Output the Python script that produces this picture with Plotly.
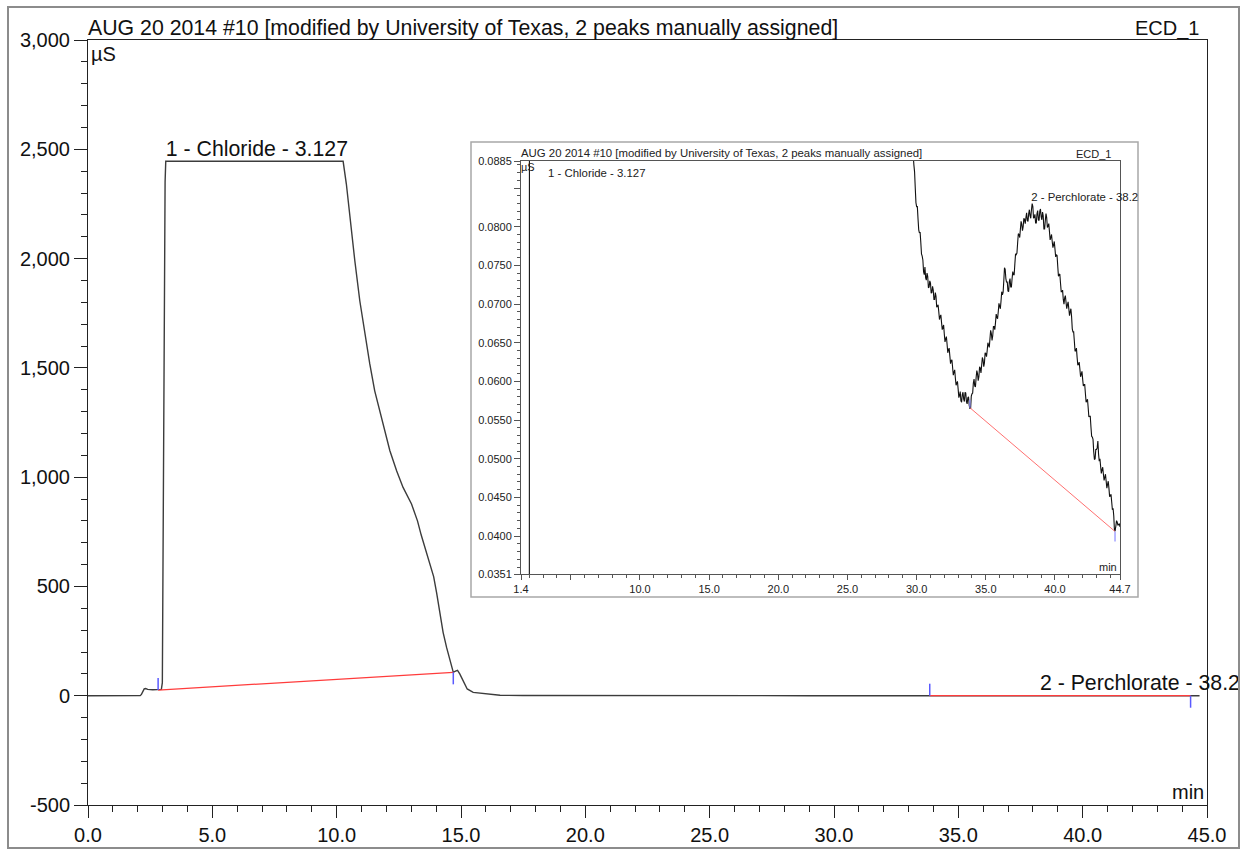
import numpy as np
import plotly.graph_objects as go

# ---------------------------------------------------------------------------
# ECD_1 conductivity trace (time in min, signal in µS)
# ---------------------------------------------------------------------------
# early part of the run: system peak, chloride (detector at full scale) and tail
run_time_early = [
    0.0, 2.0, 2.10, 2.15, 2.20, 2.26, 2.32, 2.40, 2.60, 2.80, 2.95, 2.99, 3.02,
    3.06, 3.10, 3.127, 10.26, 10.39, 10.60, 10.73, 10.93, 11.13, 11.33, 11.53,
    11.73, 11.94, 12.14, 12.41, 12.67, 13.01, 13.25, 13.40, 13.52, 13.65, 13.78,
    13.90, 14.02, 14.15, 14.28, 14.42, 14.55, 14.69, 14.78, 14.86, 14.95, 15.09,
    15.25, 15.49, 16.03, 16.57, 17.5, 18.5, 20.0, 22.0, 24.0, 26.0, 28.0, 29.0,
    29.5, 29.6, 29.7, 29.75,
]
run_signal_early = [
    0, 0, 1, 6, 20, 31, 33, 29, 27, 27, 29, 60, 700,
    1800, 2350, 2445, 2445, 2341, 2112, 1990, 1807, 1656, 1519, 1395,
    1304, 1212, 1121, 1029, 953, 877, 800, 735, 690, 650, 600,
    545, 470, 373, 290, 221, 160, 107, 112, 116, 100, 69,
    31, 15, 8, 2, 1.0, 0.6, 0.35, 0.22, 0.16, 0.12, 0.10, 0.095,
    0.0925, 0.0912, 0.0905, 0.0893,
]
# late part of the run (0.05 min sampling): perchlorate region
run_time_late = [
    29.80, 29.85, 29.90, 29.95, 30.00, 30.05, 30.10, 30.15, 30.20, 30.25,
    30.30, 30.35, 30.40, 30.45, 30.50, 30.55, 30.60, 30.65, 30.70, 30.75,
    30.80, 30.85, 30.90, 30.95, 31.00, 31.05, 31.10, 31.15, 31.20, 31.25,
    31.30, 31.35, 31.40, 31.45, 31.50, 31.55, 31.60, 31.65, 31.70, 31.75,
    31.80, 31.85, 31.90, 31.95, 32.00, 32.05, 32.10, 32.15, 32.20, 32.25,
    32.30, 32.35, 32.40, 32.45, 32.50, 32.55, 32.60, 32.65, 32.70, 32.75,
    32.80, 32.85, 32.90, 32.95, 33.00, 33.05, 33.10, 33.15, 33.20, 33.25,
    33.30, 33.35, 33.40, 33.45, 33.50, 33.55, 33.60, 33.65, 33.70, 33.75,
    33.80, 33.85, 33.90, 33.95, 34.00, 34.05, 34.10, 34.15, 34.20, 34.25,
    34.30, 34.35, 34.40, 34.45, 34.50, 34.55, 34.60, 34.65, 34.70, 34.75,
    34.80, 34.85, 34.90, 34.95, 35.00, 35.05, 35.10, 35.15, 35.20, 35.25,
    35.30, 35.35, 35.40, 35.45, 35.50, 35.55, 35.60, 35.65, 35.70, 35.75,
    35.80, 35.85, 35.90, 35.95, 36.00, 36.05, 36.10, 36.15, 36.20, 36.25,
    36.30, 36.35, 36.40, 36.45, 36.50, 36.55, 36.60, 36.65, 36.70, 36.75,
    36.80, 36.85, 36.90, 36.95, 37.00, 37.05, 37.10, 37.15, 37.20, 37.25,
    37.30, 37.35, 37.40, 37.45, 37.50, 37.55, 37.60, 37.65, 37.70, 37.75,
    37.80, 37.85, 37.90, 37.95, 38.00, 38.05, 38.10, 38.15, 38.20, 38.25,
    38.30, 38.35, 38.40, 38.45, 38.50, 38.55, 38.60, 38.65, 38.70, 38.75,
    38.80, 38.85, 38.90, 38.95, 39.00, 39.05, 39.10, 39.15, 39.20, 39.25,
    39.30, 39.35, 39.40, 39.45, 39.50, 39.55, 39.60, 39.65, 39.70, 39.75,
    39.80, 39.85, 39.90, 39.95, 40.00, 40.05, 40.10, 40.15, 40.20, 40.25,
    40.30, 40.35, 40.40, 40.45, 40.50, 40.55, 40.60, 40.65, 40.70, 40.75,
    40.80, 40.85, 40.90, 40.95, 41.00, 41.05, 41.10, 41.15, 41.20, 41.25,
    41.30, 41.35, 41.40, 41.45, 41.50, 41.55, 41.60, 41.65, 41.70, 41.75,
    41.80, 41.85, 41.90, 41.95, 42.00, 42.05, 42.10, 42.15, 42.20, 42.25,
    42.30, 42.35, 42.40, 42.45, 42.50, 42.55, 42.60, 42.65, 42.70, 42.75,
    42.80, 42.85, 42.90, 42.95, 43.00, 43.05, 43.10, 43.15, 43.20, 43.25,
    43.30, 43.35, 43.40, 43.45, 43.50, 43.55, 43.60, 43.65, 43.70, 43.75,
    43.80, 43.85, 43.90, 43.95, 44.00, 44.05, 44.10, 44.15, 44.20, 44.25,
    44.30, 44.35, 44.40, 44.45, 44.50, 44.55, 44.60, 44.65, 44.70,
]
run_signal_late = [
    0.0880, 0.0871, 0.0850, 0.0831, 0.0826, 0.0826, 0.0810, 0.0796, 0.0792, 0.0793,
    0.0780, 0.0765, 0.0762, 0.0757, 0.0742, 0.0738, 0.0748, 0.0734, 0.0731, 0.0740,
    0.0736, 0.0721, 0.0722, 0.0730, 0.0727, 0.0714, 0.0715, 0.0723, 0.0718, 0.0706,
    0.0706, 0.0715, 0.0710, 0.0696, 0.0697, 0.0699, 0.0690, 0.0680, 0.0684, 0.0686,
    0.0676, 0.0667, 0.0670, 0.0673, 0.0661, 0.0651, 0.0655, 0.0658, 0.0648, 0.0637,
    0.0641, 0.0643, 0.0633, 0.0623, 0.0627, 0.0628, 0.0618, 0.0608, 0.0612, 0.0615,
    0.0604, 0.0595, 0.0598, 0.0600, 0.0590, 0.0579, 0.0582, 0.0587, 0.0575, 0.0573,
    0.0583, 0.0586, 0.0577, 0.0574, 0.0586, 0.0585, 0.0574, 0.0571, 0.0579, 0.0580,
    0.0569, 0.0565, 0.0565, 0.0581, 0.0584, 0.0585, 0.0598, 0.0603, 0.0594, 0.0593,
    0.0605, 0.0614, 0.0610, 0.0601, 0.0606, 0.0619, 0.0617, 0.0611, 0.0621, 0.0631,
    0.0628, 0.0619, 0.0624, 0.0637, 0.0636, 0.0632, 0.0640, 0.0650, 0.0647, 0.0644,
    0.0655, 0.0666, 0.0662, 0.0653, 0.0659, 0.0671, 0.0671, 0.0667, 0.0676, 0.0687,
    0.0683, 0.0681, 0.0690, 0.0701, 0.0697, 0.0694, 0.0704, 0.0716, 0.0712, 0.0715,
    0.0730, 0.0747, 0.0745, 0.0733, 0.0728, 0.0729, 0.0717, 0.0716, 0.0729, 0.0733,
    0.0722, 0.0722, 0.0733, 0.0742, 0.0738, 0.0738, 0.0752, 0.0765, 0.0764, 0.0766,
    0.0779, 0.0791, 0.0790, 0.0786, 0.0797, 0.0807, 0.0803, 0.0795, 0.0800, 0.0811,
    0.0809, 0.0804, 0.0812, 0.0818, 0.0808, 0.0807, 0.0817, 0.0822, 0.0814, 0.0811,
    0.0822, 0.0830, 0.0826, 0.0811, 0.0812, 0.0816, 0.0805, 0.0805, 0.0817, 0.0821,
    0.0809, 0.0808, 0.0820, 0.0823, 0.0813, 0.0809, 0.0819, 0.0814, 0.0797, 0.0797,
    0.0808, 0.0817, 0.0812, 0.0799, 0.0801, 0.0804, 0.0794, 0.0783, 0.0786, 0.0790,
    0.0781, 0.0773, 0.0777, 0.0781, 0.0771, 0.0761, 0.0764, 0.0763, 0.0749, 0.0736,
    0.0738, 0.0739, 0.0727, 0.0716, 0.0716, 0.0718, 0.0706, 0.0700, 0.0708, 0.0711,
    0.0702, 0.0694, 0.0699, 0.0703, 0.0694, 0.0685, 0.0690, 0.0694, 0.0684, 0.0668,
    0.0664, 0.0664, 0.0652, 0.0639, 0.0640, 0.0643, 0.0631, 0.0621, 0.0622, 0.0625,
    0.0616, 0.0606, 0.0609, 0.0613, 0.0603, 0.0594, 0.0596, 0.0596, 0.0584, 0.0573,
    0.0575, 0.0577, 0.0566, 0.0554, 0.0555, 0.0555, 0.0541, 0.0529, 0.0528, 0.0525,
    0.0509, 0.0499, 0.0500, 0.0512, 0.0512, 0.0514, 0.0523, 0.0506, 0.0497, 0.0500,
    0.0490, 0.0481, 0.0486, 0.0489, 0.0480, 0.0472, 0.0476, 0.0480, 0.0471, 0.0462,
    0.0467, 0.0471, 0.0462, 0.0451, 0.0452, 0.0454, 0.0444, 0.0434, 0.0436, 0.0426,
    0.0407, 0.0407, 0.0413, 0.0420, 0.0418, 0.0414, 0.0415, 0.0416, 0.0412,
]
time_min = run_time_early + run_time_late
signal_us = run_signal_early + run_signal_late

# Peak table
peak_numbers = [1, 2]
peak_names = ["Chloride", "Perchlorate"]
peak_rt = [3.127, 38.28]

# Integration baselines (start / end of each peak)
baseline_start_t = [2.82, 33.85]
baseline_start_v = [26.0, 0.0566]
baseline_end_t = [14.69, 44.34]
baseline_end_v = [107.0, 0.0406]

# Axis ticks
main_x_ticks = [0, 5, 10, 15, 20, 25, 30, 35, 40, 45]
main_y_ticks = [-500, 0, 500, 1000, 1500, 2000, 2500, 3000]
inset_x_ticks = [1.4, 5, 10, 15, 20, 25, 30, 35, 40, 44.7]
inset_x_labels = ["1.4", "", "10.0", "15.0", "20.0", "25.0", "30.0", "35.0", "40.0", "44.7"]
inset_y_ticks = [0.0351, 0.0400, 0.0450, 0.0500, 0.0550, 0.0600, 0.0650,
                 0.0700, 0.0750, 0.0800, 0.0850, 0.0885]
inset_y_labels = ["0.0351", "0.0400", "0.0450", "0.0500", "0.0550", "0.0600", "0.0650",
                  "0.0700", "0.0750", "0.0800", "", "0.0885"]

TITLE = "AUG 20 2014 #10 [modified by University of Texas, 2 peaks manually assigned]"
CHANNEL = "ECD_1"

# ---------------------------------------------------------------------------
# Page geometry
# ---------------------------------------------------------------------------
W, H = 1246, 849
L, R, T, B = 88, 6, 40, 44
PW, PH = W - L - R, H - T - B


def fx(px):
    return (px - L) / PW


def fy(py):
    return (H - B - py) / PH


FONT = "Liberation Sans, Arial, sans-serif"
main_dom_x = [0.0, fx(1207)]
inset_dom_x = [fx(521), fx(1120)]
inset_dom_y = [fy(574), fy(161)]
main_xr = [0, 45]
main_yr = [-500, 3000]
inset_xr = [1.4, 44.7]
inset_yr = [0.0351, 0.0885]

t = np.array(time_min)
v = np.array(signal_us)
# label height: local apex of the trace around each retention time
peak_h = [float(v[(t >= rt - 0.2) & (t <= rt + 0.2)].max()) for rt in peak_rt]
peak_labels = [f"{n} - {name} - {rt}" for n, name, rt in zip(peak_numbers, peak_names, peak_rt)]

fig = go.Figure()

# main chromatogram
fig.add_trace(go.Scatter(x=time_min, y=signal_us, mode="lines",
                         line=dict(color="#3c3c3c", width=1.4), xaxis="x", yaxis="y"))
# zoomed chromatogram
fig.add_trace(go.Scatter(x=time_min, y=signal_us, mode="lines",
                         line=dict(color="#111111", width=1.1, simplify=False),
                         xaxis="x2", yaxis="y2"))

# baselines
for i in range(len(peak_rt)):
    bx = [baseline_start_t[i], baseline_end_t[i]]
    by = [baseline_start_v[i], baseline_end_v[i]]
    fig.add_trace(go.Scatter(x=bx, y=by, mode="lines",
                             line=dict(color="#ff3c3c", width=1.3), xaxis="x", yaxis="y"))
    fig.add_trace(go.Scatter(x=bx, y=by, mode="lines",
                             line=dict(color="#ff7070", width=1.0), xaxis="x2", yaxis="y2"))

# peak delimiters (start tick up, end tick down)
shapes = []
for i in range(len(peak_rt)):
    for (tt, vv, up) in [(baseline_start_t[i], baseline_start_v[i], True),
                         (baseline_end_t[i], baseline_end_v[i], False)]:
        shapes.append(dict(type="line", xref="x", yref="y", x0=tt, x1=tt,
                           ysizemode="pixel", yanchor=vv, y0=0, y1=12 if up else -12,
                           line=dict(color="#5a5aff", width=1.5)))
        if inset_yr[0] <= vv <= inset_yr[1]:
            shapes.append(dict(type="line", xref="x2", yref="y2", x0=tt, x1=tt,
                               ysizemode="pixel", yanchor=vv, y0=0, y1=8 if up else -10,
                               line=dict(color="#8a8aff", width=1.2)))

# inset frame and outer frame
shapes.append(dict(type="rect", xref="paper", yref="paper",
                   x0=fx(471), x1=fx(1138), y0=fy(597), y1=fy(142),
                   line=dict(color="#a8a8a8", width=1.5), fillcolor="white", layer="below"))
shapes.append(dict(type="rect", xref="paper", yref="paper",
                   x0=fx(8), x1=fx(1239), y0=fy(848), y1=fy(7),
                   line=dict(color="#8c8c8c", width=2), fillcolor="rgba(0,0,0,0)", layer="above"))

# peak labels (clipped at the page frame / inset frame)
fig.add_trace(go.Scatter(x=peak_rt, y=peak_h, mode="text", text=peak_labels,
                         textposition="top right", cliponaxis=True,
                         textfont=dict(family=FONT, size=21.3, color="#111111"),
                         xaxis="x3", yaxis="y"))
inset_lab_t = [rt for rt, h in zip(peak_rt, peak_h) if h <= inset_yr[1]]
inset_lab_v = [h for h in peak_h if h <= inset_yr[1]]
inset_lab_s = [s for s, h in zip(peak_labels, peak_h) if h <= inset_yr[1]]
fig.add_trace(go.Scatter(x=inset_lab_t, y=inset_lab_v, mode="text", text=inset_lab_s,
                         textposition="top right", cliponaxis=True,
                         textfont=dict(family=FONT, size=11.4, color="#222222"),
                         xaxis="x4", yaxis="y2"))

annotations = []
for s, rt, h in zip(peak_labels, peak_rt, peak_h):
    if h > inset_yr[1]:
        annotations.append(dict(x=rt, y=inset_yr[1], xref="x2", yref="y2", text=s,
                                showarrow=False, xanchor="left", yanchor="top",
                                xshift=1, yshift=-4,
                                font=dict(family=FONT, size=11.4, color="#222222")))

# header texts
annotations += [
    dict(x=fx(86), y=fy(27.5), xref="paper", yref="paper", text=TITLE, showarrow=False,
         xanchor="left", yanchor="middle", font=dict(family=FONT, size=21.3, color="#111111")),
    dict(x=fx(1201), y=fy(28), xref="paper", yref="paper", text=CHANNEL, showarrow=False,
         xanchor="right", yanchor="middle", font=dict(family=FONT, size=20, color="#111111")),
    dict(x=fx(89), y=fy(54), xref="paper", yref="paper", text="µS", showarrow=False,
         xanchor="left", yanchor="middle", font=dict(family=FONT, size=20, color="#111111")),
    dict(x=fx(1206), y=fy(792), xref="paper", yref="paper", text="min", showarrow=False,
         xanchor="right", yanchor="middle", font=dict(family=FONT, size=20, color="#111111")),
    dict(x=fx(519), y=fy(152.5), xref="paper", yref="paper", text=TITLE, showarrow=False,
         xanchor="left", yanchor="middle", font=dict(family=FONT, size=11.4, color="#222222")),
    dict(x=fx(1113), y=fy(153.5), xref="paper", yref="paper", text=CHANNEL, showarrow=False,
         xanchor="right", yanchor="middle", font=dict(family=FONT, size=11, color="#222222")),
    dict(x=fx(519), y=fy(167.5), xref="paper", yref="paper", text="µS", showarrow=False,
         xanchor="left", yanchor="middle", font=dict(family=FONT, size=11, color="#222222")),
    dict(x=fx(1119), y=fy(566.5), xref="paper", yref="paper", text="min", showarrow=False,
         xanchor="right", yanchor="middle", font=dict(family=FONT, size=11, color="#222222")),
]

main_tickfont = dict(family=FONT, size=20, color="#111111")
inset_tickfont = dict(family=FONT, size=11, color="#222222")

fig.update_layout(
    width=W, height=H,
    margin=dict(l=L, r=R, t=T, b=B, pad=0),
    paper_bgcolor="white", plot_bgcolor="rgba(0,0,0,0)",
    showlegend=False,
    shapes=shapes,
    annotations=annotations,
    xaxis=dict(domain=main_dom_x, range=main_xr, anchor="y", automargin=False,
               tickmode="array", tickvals=main_x_ticks,
               ticktext=[f"{x:.1f}" for x in main_x_ticks],
               ticks="outside", ticklen=12, tickwidth=1, tickcolor="#222",
               minor=dict(tickmode="linear", tick0=0, dtick=1, ticks="outside",
                          ticklen=6, tickwidth=1, tickcolor="#222", showgrid=False),
               showline=True, linecolor="#222", linewidth=1, mirror=True,
               showgrid=False, zeroline=False, tickfont=main_tickfont),
    yaxis=dict(domain=[0, 1], range=main_yr, anchor="x", automargin=False,
               tickmode="array", tickvals=main_y_ticks,
               ticktext=[f"{y:,}" for y in main_y_ticks],
               ticks="outside", ticklen=13, tickwidth=1, tickcolor="#222",
               minor=dict(tickmode="linear", tick0=0, dtick=100, ticks="outside",
                          ticklen=6, tickwidth=1, tickcolor="#222", showgrid=False),
               showline=True, linecolor="#222", linewidth=1, mirror=True,
               showgrid=False, zeroline=False, tickfont=main_tickfont),
    xaxis2=dict(domain=inset_dom_x, range=inset_xr, anchor="y2", automargin=False,
                tickmode="array", tickvals=inset_x_ticks, ticktext=inset_x_labels,
                ticks="outside", ticklen=5, tickwidth=1, tickcolor="#555",
                minor=dict(tickmode="linear", tick0=0, dtick=1, ticks="outside",
                           ticklen=3, tickwidth=1, tickcolor="#555", showgrid=False),
                showline=True, linecolor="#555", linewidth=1, mirror=True,
                showgrid=False, zeroline=False, tickfont=inset_tickfont),
    yaxis2=dict(domain=inset_dom_y, range=inset_yr, anchor="x2", automargin=False,
                tickmode="array", tickvals=inset_y_ticks, ticktext=inset_y_labels,
                ticks="outside", ticklen=6, tickwidth=1, tickcolor="#555",
                minor=dict(tickmode="linear", tick0=0, dtick=0.001, ticks="outside",
                           ticklen=3, tickwidth=1, tickcolor="#555", showgrid=False),
                showline=True, linecolor="#555", linewidth=1, mirror=True,
                showgrid=False, zeroline=False, tickfont=inset_tickfont),
    # label axes: same scale as the data axes, wider clip area
    xaxis3=dict(domain=[0, 1], anchor="y", visible=False, showgrid=False, zeroline=False,
                automargin=False, range=[0, main_xr[1] / main_dom_x[1]]),
    xaxis4=dict(domain=[inset_dom_x[0], fx(1138)], anchor="y2", visible=False,
                showgrid=False, zeroline=False, automargin=False,
                range=[inset_xr[0], inset_xr[0] + (inset_xr[1] - inset_xr[0])
                       * (fx(1138) - inset_dom_x[0]) / (inset_dom_x[1] - inset_dom_x[0])]),
)

fig.write_html("out.html")
